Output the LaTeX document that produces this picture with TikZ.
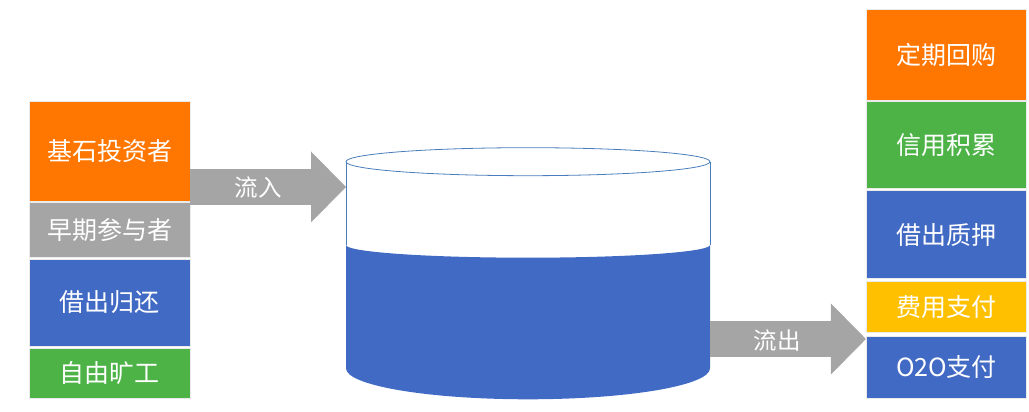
\documentclass[tikz,border=0pt]{standalone}
\usepackage{fontspec}
\newfontfamily\cjk{Noto Sans CJK SC}
\usetikzlibrary{arrows.meta}
\definecolor{cOrange}{HTML}{FF7600}
\definecolor{cGray}{HTML}{A5A5A5}
\definecolor{cBlue}{HTML}{416AC4}
\definecolor{cGreen}{HTML}{4DB347}
\definecolor{cYellow}{HTML}{FFC000}
\definecolor{cLine}{HTML}{4A7EBB}
\begin{document}
\begin{tikzpicture}[x=1pt,y=1pt,
  blk/.style={minimum width=160.5pt, inner sep=0pt, text=white,
    font=\cjk\fontsize{25}{30}\selectfont, draw=black!8, line width=0.6pt},
  flow/.style={draw=cGray, line width=36pt,
    -{Triangle[length=35pt,width=71pt,line width=0pt]}},
  flowlbl/.style={text=white, font=\cjk\fontsize{23.5}{28}\selectfont, inner sep=0pt}]
\useasboundingbox (0,0) rectangle (1029,412);
% left stack
\node[blk, fill=cOrange, minimum height=99.3pt] (b1) at (109.7,260.7) {基石投资者};
\node[blk, fill=cGray,   minimum height=54.6pt] (b2) at (109.7,182) {早期参与者};
\node[blk, fill=cBlue,   minimum height=87pt]   (b3) at (109.7,109.5) {借出归还};
\node[blk, fill=cGreen,  minimum height=49.6pt] (b4) at (109.7,38.5) {自由旷工};
% right stack
\node[blk, fill=cOrange, minimum height=90.7pt] (r1) at (946.5,357.3) {定期回购};
\node[blk, fill=cGreen,  minimum height=86.6pt] (r2) at (946.5,267) {信用积累};
\node[blk, fill=cBlue,   minimum height=88pt]   (r3) at (946.5,177.3) {借出质押};
\node[blk, fill=cYellow, minimum height=51pt]   (r4) at (946.5,104.8) {费用支付};
\node[blk, fill=cBlue,   minimum height=62.3pt] (r5) at (946.5,44.8) {O2O支付};
% cylinder
\coordinate (cyl) at (528,250.3);
\fill[cBlue] (346,167) -- (346,43.7)
  arc[start angle=180,end angle=360,x radius=182,y radius=31]
  -- (710,167)
  arc[start angle=0,end angle=-180,x radius=182,y radius=12.7] -- cycle;
\draw[cLine, line width=0.8pt] (cyl) ellipse[x radius=182, y radius=14];
\draw[cLine, line width=0.8pt] (346,250.3) -- (346,167) (710,250.3) -- (710,167);
\coordinate (cylW) at (346,225);
\coordinate (cylE) at (710,73);
\coordinate (inS) at (b1.east |- cylW);
\coordinate (outE) at (r5.west |- cylE);
% arrows
\draw[flow] (inS) -- (cylW);
\node[flowlbl] (lin) at (258,224) {流入};
\draw[flow] (cylE) -- (outE);
\node[flowlbl] (lout) at (777,71) {流出};
\end{tikzpicture}
\end{document}
